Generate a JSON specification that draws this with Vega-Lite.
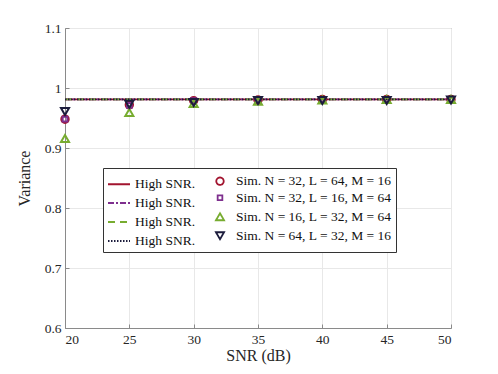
{
  "$schema": "https://vega.github.io/schema/vega-lite/v6.json",
  "width": 386,
  "height": 300,
  "autosize": "none",
  "padding": {"left": 65, "top": 28, "right": 47, "bottom": 46},
  "background": "white",
  "config": {
    "font": "Liberation Serif",
    "view": {"stroke": "#8a8a8a", "strokeWidth": 1},
    "axis": {
      "labelFont": "Liberation Serif",
      "titleFont": "Liberation Serif",
      "labelFontSize": 13.5,
      "titleFontSize": 16,
      "titleFontWeight": "normal",
      "labelColor": "#262626",
      "titleColor": "#262626",
      "domainColor": "#8a8a8a",
      "tickColor": "#8a8a8a",
      "gridColor": "#e8e8e8",
      "tickSize": -4,
      "labelPadding": 8
    },
    "legend": {
      "orient": "none",
      "legendX": 38,
      "legendY": 140,
      "columns": 2,
      "columnPadding": 12,
      "rowPadding": -6,
      "padding": 4,
      "fillColor": "white",
      "strokeColor": "#333333",
      "labelFont": "Liberation Serif",
      "labelFontSize": 13.5,
      "labelColor": "#111111",
      "symbolStrokeWidth": 1.8,
      "labelOffset": 4
    }
  },
  "datasets": {
    "lines": [
      {"series": "h1", "snr": 20, "v": 0.981}, {"series": "h1", "snr": 50, "v": 0.981},
      {"series": "h2", "snr": 20, "v": 0.981}, {"series": "h2", "snr": 50, "v": 0.981},
      {"series": "h3", "snr": 20, "v": 0.981}, {"series": "h3", "snr": 50, "v": 0.981},
      {"series": "h4", "snr": 20, "v": 0.981}, {"series": "h4", "snr": 50, "v": 0.981}
    ],
    "sims": [
      {"series": "s1", "snr": 20, "v": 0.948}, {"series": "s1", "snr": 25, "v": 0.972}, {"series": "s1", "snr": 30, "v": 0.979}, {"series": "s1", "snr": 35, "v": 0.980}, {"series": "s1", "snr": 40, "v": 0.981}, {"series": "s1", "snr": 45, "v": 0.981}, {"series": "s1", "snr": 50, "v": 0.981},
      {"series": "s2", "snr": 20, "v": 0.948}, {"series": "s2", "snr": 25, "v": 0.971}, {"series": "s2", "snr": 30, "v": 0.979}, {"series": "s2", "snr": 35, "v": 0.980}, {"series": "s2", "snr": 40, "v": 0.981}, {"series": "s2", "snr": 45, "v": 0.981}, {"series": "s2", "snr": 50, "v": 0.981},
      {"series": "s3", "snr": 20, "v": 0.916}, {"series": "s3", "snr": 25, "v": 0.959}, {"series": "s3", "snr": 30, "v": 0.974}, {"series": "s3", "snr": 35, "v": 0.978}, {"series": "s3", "snr": 40, "v": 0.980}, {"series": "s3", "snr": 45, "v": 0.981}, {"series": "s3", "snr": 50, "v": 0.981},
      {"series": "s4", "snr": 20, "v": 0.961}, {"series": "s4", "snr": 25, "v": 0.973}, {"series": "s4", "snr": 30, "v": 0.976}, {"series": "s4", "snr": 35, "v": 0.979}, {"series": "s4", "snr": 40, "v": 0.979}, {"series": "s4", "snr": 45, "v": 0.979}, {"series": "s4", "snr": 50, "v": 0.980}
    ]
  },
  "encoding": {
    "x": {
      "field": "snr", "type": "quantitative",
      "scale": {"domain": [20, 50], "nice": false, "zero": false},
      "axis": {"values": [20, 25, 30, 35, 40, 45, 50], "title": "SNR (dB)", "titlePadding": 2}
    },
    "y": {
      "field": "v", "type": "quantitative",
      "scale": {"domain": [0.6, 1.1], "nice": false, "zero": false},
      "axis": {"values": [0.6, 0.7, 0.8, 0.9, 1.0, 1.1], "format": "~g", "title": "Variance", "titlePadding": 12}
    }
  },
  "layer": [
    {
      "data": {"name": "lines"},
      "mark": {"type": "line", "strokeWidth": 1.6},
      "encoding": {
        "color": {
          "field": "series", "type": "nominal",
          "scale": {
            "domain": ["h1", "h2", "h3", "h4", "s1", "s2", "s3", "s4"],
            "range": ["#A2142F", "#7E2F8E", "#77AC30", "#1C1C3C", "#A2142F", "#7E2F8E", "#77AC30", "#1C1C3C"]
          },
          "legend": {
            "title": null,
            "labelExpr": "datum.value == 'h1' || datum.value == 'h2' || datum.value == 'h3' || datum.value == 'h4' ? 'High SNR.' : datum.value == 's1' ? 'Sim. N = 32, L = 64, M = 16' : datum.value == 's2' ? 'Sim. N = 32, L = 16, M = 64' : datum.value == 's3' ? 'Sim. N = 16, L = 32, M = 64' : 'Sim. N = 64, L = 32, M = 16'"
          }
        },
        "strokeDash": {
          "field": "series", "type": "nominal",
          "scale": {
            "domain": ["h1", "h2", "h3", "h4", "s1", "s2", "s3", "s4"],
            "range": [[1, 0], [6, 2, 2, 2], [7, 5], [1.5, 1.5], [1, 0], [1, 0], [1, 0], [1, 0]]
          },
          "legend": {
            "title": null,
            "labelExpr": "datum.value == 'h1' || datum.value == 'h2' || datum.value == 'h3' || datum.value == 'h4' ? 'High SNR.' : datum.value == 's1' ? 'Sim. N = 32, L = 64, M = 16' : datum.value == 's2' ? 'Sim. N = 32, L = 16, M = 64' : datum.value == 's3' ? 'Sim. N = 16, L = 32, M = 64' : 'Sim. N = 64, L = 32, M = 16'"
          }
        }
      }
    },
    {
      "data": {"name": "sims"},
      "mark": {"type": "point", "filled": false, "strokeWidth": 2, "opacity": 1},
      "encoding": {
        "color": {"field": "series", "type": "nominal"},
        "shape": {
          "field": "series", "type": "nominal",
          "scale": {
            "domain": ["h1", "h2", "h3", "h4", "s1", "s2", "s3", "s4"],
            "range": ["stroke", "stroke", "stroke", "stroke", "circle", "square", "triangle-up", "triangle-down"]
          },
          "legend": {
            "title": null,
            "labelExpr": "datum.value == 'h1' || datum.value == 'h2' || datum.value == 'h3' || datum.value == 'h4' ? 'High SNR.' : datum.value == 's1' ? 'Sim. N = 32, L = 64, M = 16' : datum.value == 's2' ? 'Sim. N = 32, L = 16, M = 64' : datum.value == 's3' ? 'Sim. N = 16, L = 32, M = 64' : 'Sim. N = 64, L = 32, M = 16'"
          }
        },
        "size": {
          "field": "series", "type": "nominal",
          "scale": {
            "type": "ordinal",
            "domain": ["h1", "h2", "h3", "h4", "s1", "s2", "s3", "s4"],
            "range": [484, 484, 484, 484, 55, 22, 65, 65]
          },
          "legend": {
            "title": null,
            "labelExpr": "datum.value == 'h1' || datum.value == 'h2' || datum.value == 'h3' || datum.value == 'h4' ? 'High SNR.' : datum.value == 's1' ? 'Sim. N = 32, L = 64, M = 16' : datum.value == 's2' ? 'Sim. N = 32, L = 16, M = 64' : datum.value == 's3' ? 'Sim. N = 16, L = 32, M = 64' : 'Sim. N = 64, L = 32, M = 16'"
          }
        }
      }
    }
  ]
}
